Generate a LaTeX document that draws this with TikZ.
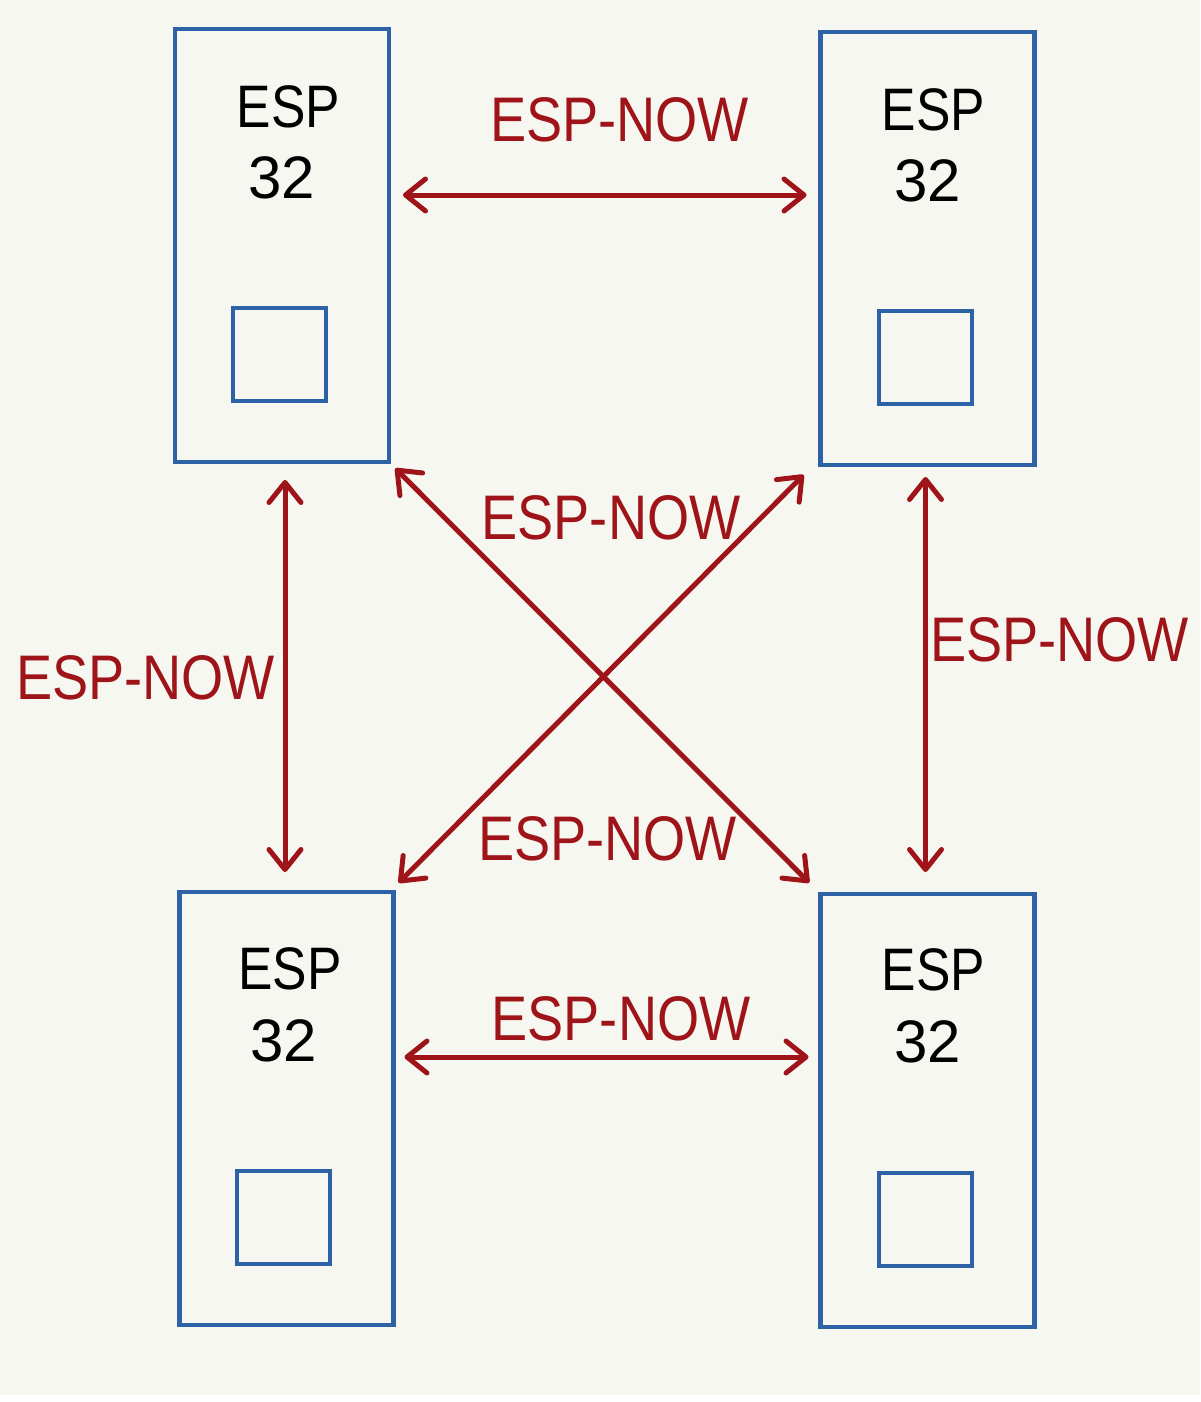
\documentclass[tikz,border=0pt]{standalone}
\usepackage{fontspec}
\setmainfont{Liberation Sans}
\newfontfamily\narrowfont[FakeStretch=0.86]{Liberation Sans}
\usetikzlibrary{arrows.meta}
\definecolor{bg}{RGB}{247,247,242}
\definecolor{espblue}{RGB}{46,98,166}
\definecolor{espred}{RGB}{158,20,24}
\tikzset{
  board/.style={draw=espblue, line width=4.5pt, minimum width=214pt, minimum height=433pt, inner sep=0pt, outer sep=0pt},
  chip/.style={draw=espblue, line width=4pt, minimum size=93pt, inner sep=0pt, outer sep=0pt},
  conn/.style={draw=espred, line width=5pt, line cap=round,
    {Straight Barb[length=20pt,width=32pt,round]}-{Straight Barb[length=20pt,width=32pt,round]}},
  lab/.style={text=espred, font=\narrowfont\fontsize{63}{70}\selectfont, anchor=base, inner sep=0pt},
  word/.style={text=black, font=\narrowfont\fontsize{60}{70}\selectfont, anchor=base, inner sep=0pt},
  num/.style={text=black, font=\fontsize{60}{70}\selectfont, anchor=base, inner sep=0pt}
}
\begin{document}
\begin{tikzpicture}[x=1pt,y=-1pt]
\fill[bg] (0,0) rectangle (1200,1395);
\fill[white] (0,1395) rectangle (1200,1402);
\useasboundingbox (0,0) rectangle (1200,1402);

% boards
\node[board] (tl) at (282,245.5) {};
\node[board] (tr) at (927.5,248.5) {};
\node[board] (bl) at (286.5,1108.5) {};
\node[board] (br) at (927.5,1110.5) {};

% chips
\node[chip] (tlc) at (279.5,354.5) {};
\node[chip] (trc) at (925.5,357.5) {};
\node[chip] (blc) at (283.5,1217) {};
\node[chip] (brc) at (925.5,1219) {};

% board texts
\node[word] (tlw) at (288.5,128) {ESP};
\node[num]  (tln) at (281.5,198) {32};
\node[word] (trw) at (933.5,131) {ESP};
\node[num]  (trn) at (927.5,201) {32};
\node[word] (blw) at (290,989) {ESP};
\node[num]  (bln) at (283.5,1061) {32};
\node[word] (brw) at (933.5,990) {ESP};
\node[num]  (brn) at (927.5,1062) {32};

% connectors
\draw[conn, shorten <=14pt, shorten >=14pt] ([yshift=50.5pt]tl.east) -- ([yshift=53.5pt]tr.west);
\draw[conn, shorten <=11pt, shorten >=12pt] ([yshift=51.5pt]bl.east) -- ([yshift=53.5pt]br.west);
\draw[conn, shorten <=18pt, shorten >=20pt] ([xshift=3pt]tl.south) -- ([xshift=-1.5pt]bl.north);
\draw[conn, shorten <=12pt, shorten >=22pt] ([xshift=-2pt]tr.south) -- ([xshift=-2pt]br.north);
\draw[conn, shorten <=9pt, shorten >=16pt] (tl.south east) -- (br.north west);
\draw[conn, shorten <=14pt, shorten >=13pt] ([xshift=-7pt]tr.south west) -- ([xshift=-4pt]bl.north east);

% labels
\node[lab] (l1) at (619.5,142) {ESP-NOW};
\node[lab] (l2) at (145.5,699) {ESP-NOW};
\node[lab] (l3) at (1059.5,661) {ESP-NOW};
\node[lab] (l4) at (611,539) {ESP-NOW};
\node[lab] (l5) at (607.5,860) {ESP-NOW};
\node[lab] (l6) at (621,1040) {ESP-NOW};
\end{tikzpicture}
\end{document}
